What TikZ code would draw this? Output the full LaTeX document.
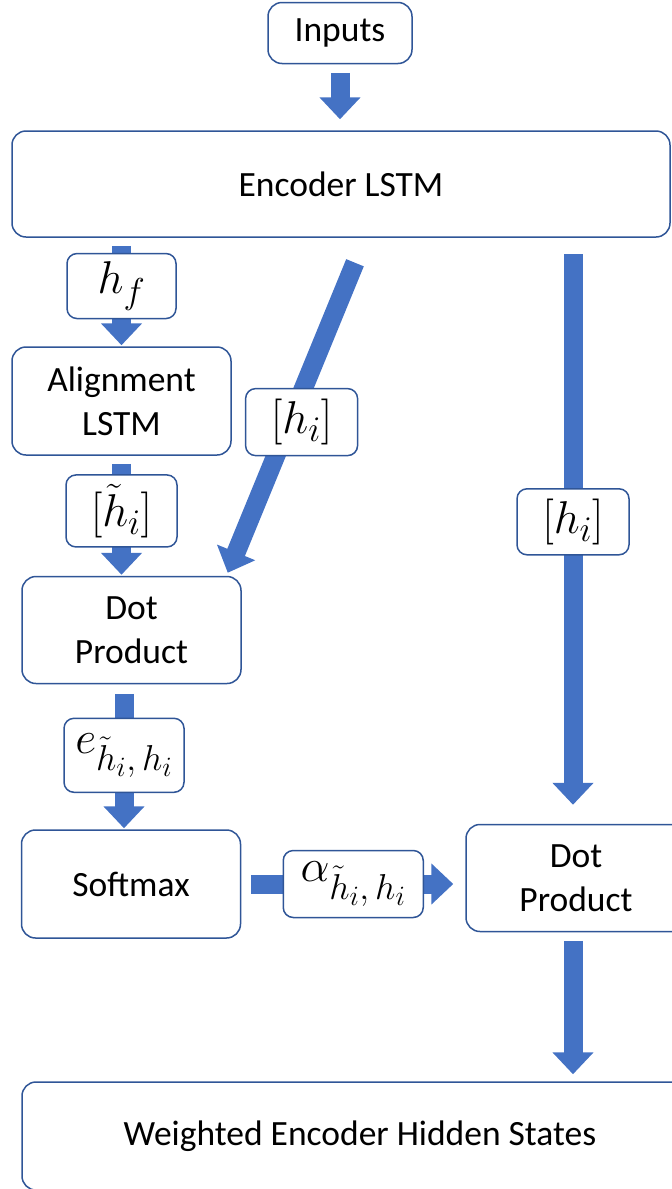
\RequirePackage{fix-cm}
\documentclass[tikz,border=0pt]{standalone}
\usepackage{fontspec}
\setmainfont{Carlito}
\usepackage{tikz}
\usetikzlibrary{positioning,arrows.meta}
\definecolor{boxblue}{RGB}{47,85,151}
\definecolor{arrblue}{RGB}{68,114,196}
\DeclareMathSizes{46}{46}{36}{28}
\newcommand{\txtsize}{\fontsize{35.5}{44}\selectfont}
\newcommand{\mathsize}{\fontsize{46}{54}\selectfont}

\begin{document}
\begin{tikzpicture}[x=1pt, y=-1pt,
      box/.style={draw=boxblue, line width=1.5pt, rounded corners=14pt, fill=white,
                  minimum width=219pt, minimum height=107pt, inner sep=0pt,
                  align=center, font=\txtsize},
      lbl/.style={draw=boxblue, line width=1.5pt, rounded corners=10pt, fill=white,
                  minimum width=111pt, minimum height=66pt, inner sep=0pt, font=\mathsize},
      blk/.style={draw=arrblue, line width=19pt, -{Triangle[length=22pt 0, width=40pt 0]}}]
    \useasboundingbox (0,0) rectangle (672,1189);

    \node[box, minimum width=144pt, minimum height=61pt] (inp) at (340,33) {Inputs};
    \node[box, minimum width=658pt, minimum height=106pt] (enc) at (341,184) {Encoder LSTM};
    \node[box, minimum height=108pt] (align) at (121.5,401) {Alignment\\LSTM};
    \node[box] (dotl) at (131.5,630) {Dot\\Product};
    \node[box, minimum height=108pt] (soft) at (131,884) {Softmax};
    \node[box, minimum width=220pt] (dotr) at (576,878) {Dot\\Product};
    \node[box, minimum width=676pt, minimum height=108pt] (wtd) at (360,1136)
         {Weighted Encoder Hidden States};

    \coordinate (dsrc) at ([xshift=14pt, yshift=-25pt]enc.south);
    \coordinate (dtip) at ([xshift=-14pt, yshift=3pt]dotl.north east);
    \coordinate (rsrc) at (573,254);

    \draw[blk, shorten <=8.5pt, shorten >=11pt] (inp.south) -- (inp.south |- enc.north);
    \draw[blk, shorten <=8pt, shorten >=1pt] (align.north |- enc.south)
         -- node[lbl, pos=0.445, minimum width=109pt, minimum height=65pt] (hf) {$h_f$} (align.north);
    \draw[blk, shorten <=8pt, shorten >=1pt] (align.south)
         -- node[lbl, pos=0.46, minimum height=72pt] (ht) {$[\tilde{h}_i]$} (align.south |- dotl.north);
    \draw[blk, shorten <=9.5pt, shorten >=1pt] ([xshift=-7.5pt]dotl.south)
         -- node[lbl, pos=0.49, minimum width=120pt, minimum height=74pt] (ee) {$e_{\tilde{h}_i,\,h_i}$}
            ([xshift=-7.5pt]dotl.south |- soft.north);
    \draw[blk] (dsrc)
         -- node[lbl, pos=0.514, xshift=12pt, minimum width=112pt, minimum height=67pt] (hid) {$[h_i]$} (dtip);
    \draw[blk, shorten >=19pt] (rsrc)
         -- node[lbl, pos=0.47, minimum width=112pt] (hir) {$[h_i]$} (rsrc |- dotr.north);
    \draw[blk, shorten <=9.5pt, shorten >=12pt] (soft.east)
         -- node[lbl, pos=0.5, minimum width=140pt, minimum height=67pt] (al) {$\alpha_{\tilde{h}_i,\,h_i}$}
            (soft.east -| dotr.west);
    \draw[blk, shorten <=8.5pt, shorten >=7pt] (rsrc |- dotr.south) -- (rsrc |- wtd.north);
  \end{tikzpicture}
\end{document}
